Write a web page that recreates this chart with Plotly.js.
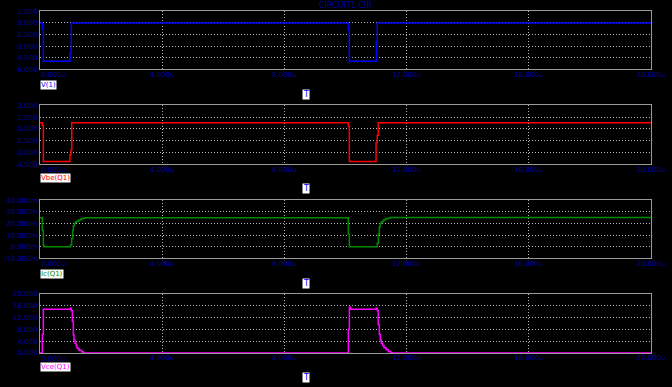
<!DOCTYPE html>
<html>
<head>
<meta charset="utf-8">
<script src="https://cdn.plot.ly/plotly-3.0.1.min.js"></script>
<style>html,body{margin:0;padding:0;background:#000;}#chart{width:672px;height:387px;}</style>
</head>
<body>
<div id="chart"></div>
<script>
// ---- data (time in microseconds, hold-value steps) ----
const tV1 = [0, 0.076, 0.109, 0.982, 1.015, 1.026, 10.093, 10.126, 11.01, 11.04, 20];
const v1  = [0, -0.8, -4.97, -4.0, -3.4, 0, -0.9, -4.97, -2.4, 0, 0];

const tVbe = [0, 0.076, 0.109, 0.982, 1.015, 1.04, 10.093, 10.126, 11.0, 11.04, 11.07, 20];
const vbe  = [0.78, 0.45, -4.15, -3.3, -2.7, 0.78, 0.3, -4.15, -1.75, -0.8, 0.78, 0.78];

const tIc = [0, 0.076, 0.109, 0.13, 1.0, 1.037, 1.069, 1.091, 1.124, 1.157, 1.2, 1.265, 1.342, 1.418, 1.473,
             10.093, 10.126, 11.04, 11.075, 11.107, 11.14, 11.18, 11.24, 11.31, 11.4, 11.48, 20];
const ic  = [25, 14, 1.5, 0, 1.5, 7, 14, 18, 20, 21, 22, 23, 24, 24.5, 25,
             10.7, 0, 2.9, 10.7, 17.2, 20.2, 21.6, 23, 24, 24.7, 25.2, 25.2]; // mA

const tVce = [0, 0.076, 0.109, 0.993, 1.026, 1.059, 1.091, 1.113, 1.146, 1.18, 1.211, 1.24, 1.277, 1.364, 1.418, 1.45,
              10.093, 10.126, 10.16, 11.0, 11.04, 11.07, 11.107, 11.14, 11.17, 11.22, 11.26, 11.33, 11.4, 11.48, 11.54, 20];
const vce  = [0, 6.3, 14.8, 15.2, 14.3, 10.8, 6.1, 4.4, 3.3, 2.5, 1.8, 1.4, 0.9, 0.45, 0.1, 0,
              8.0, 15.5, 14.8, 15.2, 14.3, 9.7, 6.3, 4.4, 3.3, 2.5, 1.8, 1.1, 0.5, 0.1, 0, 0];

const seriesNames = ['V(1)', 'Vbe(Q1)', 'Ic(Q1)', 'Vce(Q1)'];
const seriesColors = ['#0000ff', '#ff0000', '#008a00', '#ff00ff'];

const xTickVals = [0, 4, 8, 12, 16, 20];
const xTickLabels = ['0.000u', '4.000u', '8.000u', '12.000u', '16.000u', '20.000u'];

const y1TickVals = [-6, -4.5, -3, -1.5, 0, 1.5];
const y1TickLabels = ['-6.000', '-4.500', '-3.000', '-1.500', '0.000', '1.500'];
const y2TickVals = [-4.5, -3, -1.5, 0, 1.5, 3];
const y2TickLabels = ['-4.500', '-3.000', '-1.500', '0.000', '1.500', '3.000'];
const y3TickVals = [-10, 0, 10, 20, 30, 40];
const y3TickLabels = ['-10.000m', '0.000m', '10.000m', '20.000m', '30.000m', '40.000m'];
const y4TickVals = [0, 4, 8, 12, 16, 20];
const y4TickLabels = ['0.000', '4.000', '8.000', '12.000', '16.000', '20.000'];

const titleText = 'CIRCUIT1.CIR';
const axisLabel = 'T';

// ---- layout ----
const W = 672, H = 387;
const FONT = 'DejaVu Sans, sans-serif';
const TXT = '#0000aa';
const plotLeft = 40, plotRight = 651;
const panels = [ [11.3, 69.3], [105.3, 164.3], [200.3, 258.3], [294, 353] ];
const yRanges = [[-6, 1.5], [-4.5, 3], [-10, 40], [0, 20]];
const yTicks = [[y1TickVals, y1TickLabels], [y2TickVals, y2TickLabels], [y3TickVals, y3TickLabels], [y4TickVals, y4TickLabels]];
const labelY = [85, 178, 273.5, 367];
const tY = [94.5, 188.7, 283.7, 377.7];

// first x label is drawn left-aligned at its tick (as in the original), the rest centred by the axis
const xText = xTickLabels.map((s, i) => i === 0 ? '' : s);

const seriesT = [tV1, tVbe, tIc, tVce];
const seriesV = [v1, vbe, ic, vce];

const traces = [];
const layout = {
  width: W, height: H,
  margin: {l: 0, r: 0, t: 0, b: 0},
  paper_bgcolor: '#000', plot_bgcolor: '#000',
  showlegend: false,
  font: {family: FONT, size: 7, color: TXT},
  title: {text: titleText, x: 345.5 / W, xref: 'container', xanchor: 'center',
          y: 1 - 5.5 / H, yref: 'container', yanchor: 'middle',
          font: {family: FONT, size: 8, color: '#0000a0'}},
  annotations: []
};

for (let i = 0; i < 4; i++) {
  const sfx = i === 0 ? '' : String(i + 1);
  traces.push({
    x: seriesT[i], y: seriesV[i], type: 'scatter', mode: 'lines',
    line: {color: seriesColors[i], width: 1.5, shape: 'hv'},
    xaxis: 'x' + sfx, yaxis: 'y' + sfx, hoverinfo: 'skip'
  });
  const dom = [1 - panels[i][1] / H, 1 - panels[i][0] / H];
  layout['xaxis' + sfx] = {
    domain: [plotLeft / W, plotRight / W], anchor: 'y' + sfx,
    range: [0, 20], tickmode: 'array', tickvals: xTickVals, ticktext: xText,
    showgrid: true, gridcolor: '#b8b8b8', griddash: '1px,2px', gridwidth: 1,
    zeroline: false, showline: true, mirror: true, linecolor: '#9a9a9a', linewidth: 1,
    ticks: '', ticklen: 0, ticklabelstandoff: -2,
    tickfont: {family: FONT, size: 7, color: TXT}, fixedrange: true
  };
  layout['yaxis' + sfx] = {
    domain: dom, anchor: 'x' + sfx,
    range: yRanges[i], tickmode: 'array', tickvals: yTicks[i][0], ticktext: yTicks[i][1],
    showgrid: true, gridcolor: '#b8b8b8', griddash: '1px,2px', gridwidth: 1,
    zeroline: false, showline: true, mirror: true, linecolor: '#9a9a9a', linewidth: 1,
    ticks: '', ticklen: 0,
    tickfont: {family: FONT, size: 7, color: TXT}, fixedrange: true
  };
  layout.annotations.push({
    text: xTickLabels[0], xref: 'x' + sfx, yref: 'paper',
    x: xTickVals[0], xanchor: 'left', y: 1 - (panels[i][1] + 5.5) / H, yanchor: 'middle',
    showarrow: false, borderpad: 0,
    font: {family: FONT, size: 7, color: TXT}
  });
  layout.annotations.push({
    text: seriesNames[i], xref: 'paper', yref: 'paper',
    x: plotLeft / W, xanchor: 'left', y: 1 - labelY[i] / H, yanchor: 'middle',
    showarrow: false, bgcolor: '#ffffff', borderpad: 0,
    font: {family: FONT, size: 7, color: seriesColors[i]}
  });
  layout.annotations.push({
    text: axisLabel, xref: 'paper', yref: 'paper',
    x: 306 / W, xanchor: 'center', y: 1 - tY[i] / H, yanchor: 'middle',
    showarrow: false, bgcolor: '#ffffff', borderpad: 0,
    font: {family: FONT, size: 8, color: '#0000ff'}
  });
}

Plotly.newPlot('chart', traces, layout, {staticPlot: true, displayModeBar: false});
</script>
</body>
</html>
